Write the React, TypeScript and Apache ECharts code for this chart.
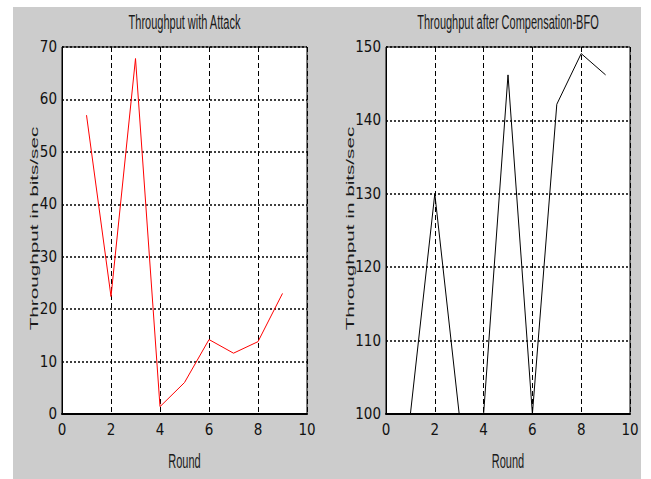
import React, { useEffect, useRef } from "react";
import * as echarts from "echarts";

const rounds = [1, 2, 3, 4, 5, 6, 7, 8, 9];
const attackThroughput = [57, 22.4, 67.8, 1.4, 6, 14.2, 11.6, 13.8, 23];
const compensatedThroughput = [100, 130, 100, 100, 146.2, 100, 142.2, 149.1, 146.2];
const titles = ["Throughput with Attack", "Throughput after Compensation-BFO"];
const xName = "Round";
const yName = "Throughput in bits/sec";
const yRanges = [
  { min: 0, max: 70, interval: 10 },
  { min: 100, max: 150, interval: 10 },
];

const GRIDS = [
  { left: 62, top: 47, width: 245, height: 367, yNameX: 34 },
  { left: 386, top: 47, width: 244, height: 367, yNameX: 350 },
];

const NARROW = '"Liberation Sans Narrow", "DejaVu Sans Condensed", "Liberation Sans", Arial, sans-serif';
const SANS = '"Liberation Sans", Arial, sans-serif';

function textEl(text: string, x: number, y: number, fontSize: number, scaleX: number, rotation = 0) {
  return {
    type: "text",
    x,
    y,
    rotation,
    scaleX,
    scaleY: 1,
    silent: true,
    z: 100,
    style: {
      text,
      fontSize,
      fontFamily: SANS,
      fill: "#1a1a1a",
      align: "center",
      verticalAlign: "middle",
      textAlign: "center",
      textVerticalAlign: "middle",
    },
  };
}

export default function App() {
  const ref = useRef<HTMLDivElement>(null);
  useEffect(() => {
    document.body.style.margin = "0";
    const chart = echarts.init(ref.current!, null, { renderer: "svg" });
    const graphic: any[] = [
      {
        type: "rect",
        shape: { x: 13, y: 7, width: 628, height: 472 },
        style: { fill: "#cccccc" },
        z: -10,
        silent: true,
      },
    ];
    GRIDS.forEach((g, i) => {
      const cx = g.left + g.width / 2;
      graphic.push(textEl(titles[i], cx, 22, 20, 0.55));
      graphic.push(textEl(xName, cx, 461, 20, 0.55));
      graphic.push(textEl(yName, g.yNameX, g.top + g.height / 2 - 2, 11.5, 1.8, Math.PI / 2));
    });

    const series = [attackThroughput, compensatedThroughput].map((vals, i) => ({
      type: "line",
      xAxisIndex: i,
      yAxisIndex: i,
      data: rounds.map((r, k) => [r, vals[k]]),
      showSymbol: false,
      symbol: "none",
      lineStyle: { color: i === 0 ? "#ff0000" : "#000000", width: 1 },
      itemStyle: { color: i === 0 ? "#ff0000" : "#000000" },
      z: 5,
      clip: true,
    }));

    chart.setOption({
      animation: false,
      backgroundColor: "#ffffff",
      graphic,
      grid: GRIDS.map((g) => ({
        left: g.left,
        top: g.top,
        width: g.width,
        height: g.height,
        show: true,
        backgroundColor: "#ffffff",
        borderColor: "#000000",
        borderWidth: 1,
        containLabel: false,
      })),
      xAxis: GRIDS.map((_, i) => ({
        type: "value",
        gridIndex: i,
        min: 0,
        max: 10,
        interval: 2,
        axisLine: { show: true, onZero: false, lineStyle: { color: "#000", width: 2 } },
        axisTick: { show: false },
        axisLabel: { fontSize: 15, fontFamily: NARROW, color: "#111", margin: 8 },
        splitLine: { show: true, lineStyle: { color: "#000", type: [5, 3], width: 1 } },
      })),
      yAxis: GRIDS.map((_, i) => ({
        type: "value",
        gridIndex: i,
        min: yRanges[i].min,
        max: yRanges[i].max,
        interval: yRanges[i].interval,
        axisLine: { show: true, onZero: false, lineStyle: { color: "#000", width: 1 } },
        axisTick: { show: false },
        axisLabel: { fontSize: 15, fontFamily: NARROW, color: "#111", margin: 5 },
        splitLine: { show: true, lineStyle: { color: "#000", type: [2, 2], width: 1.5 } },
      })),
      series,
    });
    return () => chart.dispose();
  }, []);
  return <div ref={ref} style={{ width: 651, height: 479 }} />;
}
